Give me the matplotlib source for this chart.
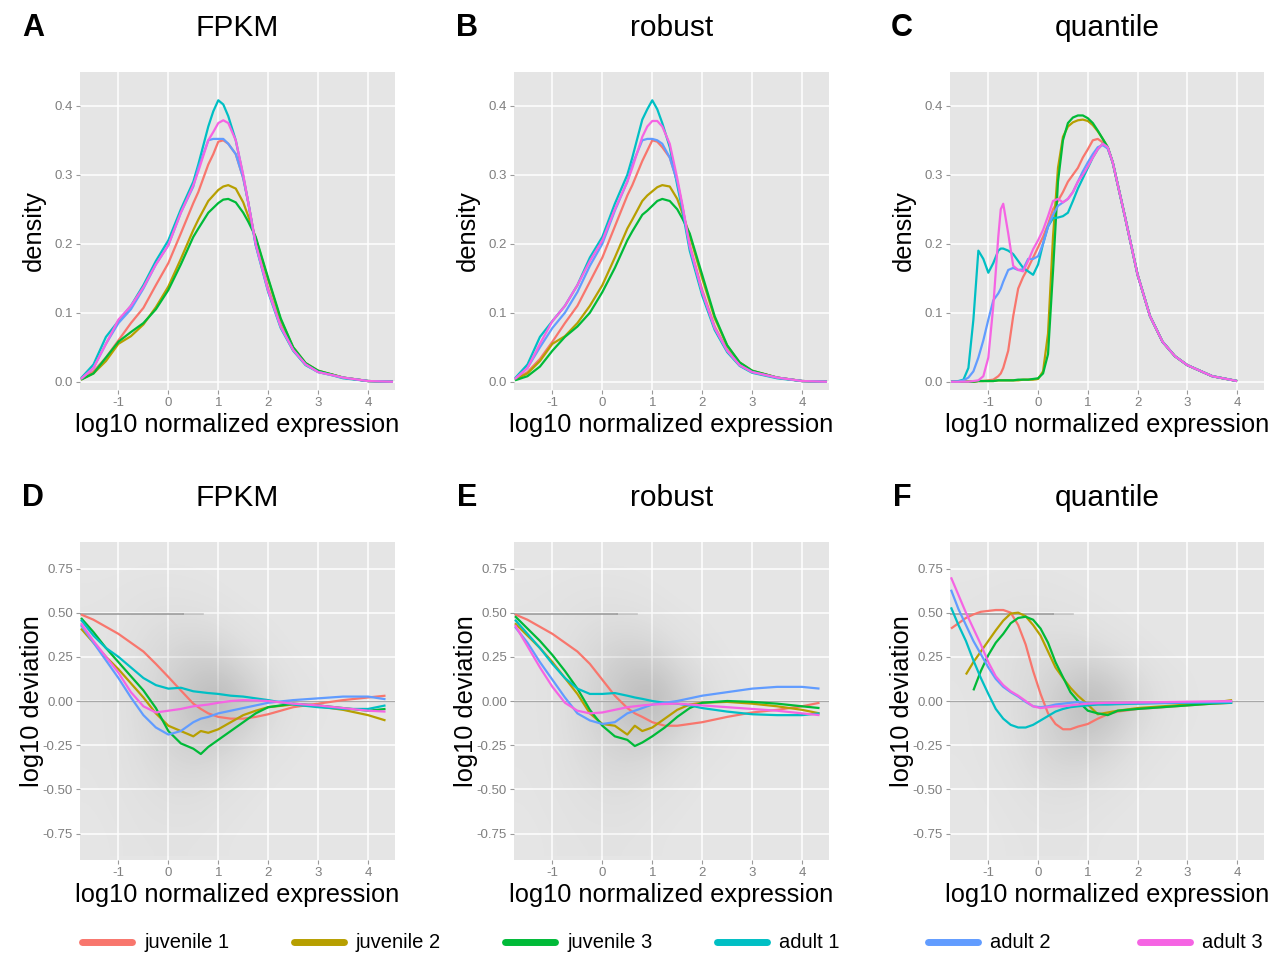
import numpy as np
import matplotlib
matplotlib.use("Agg")
import matplotlib.pyplot as plt
from matplotlib.lines import Line2D

plt.rcParams['font.family'] = ['Liberation Sans', 'DejaVu Sans']
plt.rcParams['axes.unicode_minus'] = False

# ---------------- data ----------------
samples = ["juvenile 1", "juvenile 2", "juvenile 3", "adult 1", "adult 2", "adult 3"]
colors = ["#F8766D", "#B79F00", "#00BA38", "#00BFC4", "#619CFF", "#F564E3"]

# density panels A, B
dens_x = [-1.75, -1.5, -1.25, -1.0, -0.75, -0.5, -0.25, 0.0, 0.25, 0.5, 0.6, 0.8, 0.9, 1.0,
          1.1, 1.2, 1.35, 1.5, 1.6, 1.75, 2.0, 2.25, 2.5, 2.75, 3.0, 3.25, 3.5, 4.0, 4.5]

fpkm_density = {
    "juvenile 1": [0.003, 0.015, 0.035, 0.06, 0.085, 0.107, 0.14, 0.172, 0.215, 0.259, 0.275, 0.315, 0.33,
                   0.348, 0.35, 0.345, 0.33, 0.295, 0.26, 0.2, 0.135, 0.082, 0.047, 0.025, 0.015, 0.011,
                   0.006, 0.001, 0.0],
    "juvenile 2": [0.003, 0.012, 0.03, 0.055, 0.066, 0.083, 0.108, 0.138, 0.178, 0.22, 0.235, 0.262, 0.27,
                   0.278, 0.283, 0.285, 0.28, 0.26, 0.24, 0.208, 0.148, 0.09, 0.05, 0.027, 0.016, 0.011,
                   0.006, 0.001, 0.0],
    "juvenile 3": [0.003, 0.012, 0.035, 0.058, 0.072, 0.085, 0.105, 0.133, 0.17, 0.21, 0.222, 0.245, 0.252,
                   0.259, 0.264, 0.265, 0.26, 0.245, 0.232, 0.21, 0.15, 0.092, 0.05, 0.027, 0.016, 0.011,
                   0.006, 0.001, 0.0],
    "adult 1":    [0.005, 0.025, 0.065, 0.088, 0.11, 0.14, 0.175, 0.205, 0.25, 0.29, 0.315, 0.37, 0.392,
                   0.408, 0.402, 0.385, 0.35, 0.298, 0.26, 0.198, 0.13, 0.078, 0.045, 0.024, 0.014, 0.01,
                   0.005, 0.001, 0.0],
    "adult 2":    [0.004, 0.02, 0.055, 0.085, 0.105, 0.135, 0.17, 0.198, 0.245, 0.283, 0.31, 0.35, 0.352,
                   0.352, 0.352, 0.345, 0.33, 0.295, 0.26, 0.198, 0.132, 0.08, 0.046, 0.025, 0.014, 0.01,
                   0.006, 0.001, 0.0],
    "adult 3":    [0.004, 0.02, 0.055, 0.09, 0.11, 0.137, 0.17, 0.198, 0.245, 0.285, 0.305, 0.35, 0.362,
                   0.375, 0.379, 0.375, 0.35, 0.30, 0.26, 0.2, 0.132, 0.08, 0.046, 0.025, 0.014, 0.01,
                   0.006, 0.001, 0.0],
}

robust_density = {
    "juvenile 1": [0.003, 0.014, 0.033, 0.058, 0.085, 0.11, 0.145, 0.18, 0.225, 0.27, 0.285, 0.32, 0.335,
                   0.35, 0.348, 0.34, 0.325, 0.29, 0.255, 0.198, 0.133, 0.08, 0.046, 0.025, 0.015, 0.011,
                   0.006, 0.001, 0.0],
    "juvenile 2": [0.003, 0.012, 0.03, 0.055, 0.066, 0.085, 0.11, 0.14, 0.18, 0.222, 0.235, 0.262, 0.27,
                   0.276, 0.282, 0.285, 0.283, 0.265, 0.245, 0.212, 0.15, 0.092, 0.052, 0.028, 0.016, 0.011,
                   0.006, 0.001, 0.0],
    "juvenile 3": [0.002, 0.008, 0.022, 0.045, 0.065, 0.08, 0.1, 0.13, 0.165, 0.205, 0.218, 0.242, 0.248,
                   0.255, 0.262, 0.265, 0.262, 0.25, 0.237, 0.215, 0.155, 0.095, 0.053, 0.028, 0.016, 0.011,
                   0.006, 0.001, 0.0],
    "adult 1":    [0.005, 0.025, 0.065, 0.088, 0.11, 0.14, 0.18, 0.21, 0.258, 0.3, 0.325, 0.38, 0.395,
                   0.408, 0.395, 0.375, 0.34, 0.285, 0.25, 0.19, 0.125, 0.075, 0.043, 0.023, 0.013, 0.009,
                   0.005, 0.001, 0.0],
    "adult 2":    [0.004, 0.02, 0.05, 0.078, 0.1, 0.13, 0.168, 0.2, 0.248, 0.29, 0.315, 0.35, 0.352,
                   0.352, 0.35, 0.345, 0.325, 0.29, 0.255, 0.195, 0.13, 0.078, 0.045, 0.024, 0.014, 0.01,
                   0.006, 0.001, 0.0],
    "adult 3":    [0.004, 0.02, 0.055, 0.088, 0.11, 0.14, 0.175, 0.205, 0.25, 0.29, 0.31, 0.355, 0.37,
                   0.378, 0.378, 0.37, 0.345, 0.295, 0.258, 0.197, 0.13, 0.078, 0.045, 0.024, 0.014, 0.01,
                   0.006, 0.001, 0.0],
}

# density panel C (quantile)
quant_x = [-1.75, -1.6, -1.5, -1.4, -1.3, -1.2, -1.1, -1.0, -0.9, -0.8, -0.75, -0.7, -0.6, -0.5,
           -0.4, -0.3, -0.2, -0.1, 0.0, 0.1, 0.2, 0.3, 0.4, 0.5, 0.6, 0.7, 0.8, 0.9, 1.0, 1.1,
           1.2, 1.3, 1.4, 1.5, 1.75, 2.0, 2.25, 2.5, 2.75, 3.0, 3.5, 4.0]

quantile_density = {
    "juvenile 1": [0.0, 0.0, 0.0, 0.0, 0.0, 0.001, 0.001, 0.002, 0.003, 0.008, 0.012, 0.02, 0.045, 0.095,
                   0.135, 0.152, 0.165, 0.18, 0.195, 0.21, 0.228, 0.25, 0.262, 0.275, 0.29, 0.3, 0.31, 0.325,
                   0.337, 0.35, 0.352, 0.347, 0.338, 0.318, 0.238, 0.155, 0.095, 0.058, 0.037, 0.024, 0.008, 0.001],
    "juvenile 2": [0.0, 0.0, 0.0, 0.0, 0.0, 0.001, 0.001, 0.001, 0.001, 0.002, 0.002, 0.002, 0.002, 0.002,
                   0.002, 0.003, 0.003, 0.003, 0.004, 0.015, 0.07, 0.21, 0.31, 0.355, 0.37, 0.376, 0.379, 0.38,
                   0.378, 0.372, 0.363, 0.352, 0.34, 0.318, 0.238, 0.155, 0.095, 0.058, 0.037, 0.024, 0.008, 0.001],
    "juvenile 3": [0.0, 0.0, 0.0, 0.0, 0.0, 0.001, 0.001, 0.001, 0.001, 0.002, 0.002, 0.002, 0.002, 0.002,
                   0.003, 0.003, 0.003, 0.004, 0.005, 0.012, 0.04, 0.16, 0.29, 0.35, 0.375, 0.383, 0.386, 0.386,
                   0.382, 0.375, 0.364, 0.352, 0.34, 0.318, 0.238, 0.155, 0.095, 0.058, 0.037, 0.024, 0.008, 0.001],
    "adult 1":    [0.0, 0.001, 0.003, 0.02, 0.09, 0.19, 0.178, 0.158, 0.172, 0.19, 0.193, 0.193, 0.19, 0.185,
                   0.175, 0.165, 0.16, 0.155, 0.17, 0.2, 0.225, 0.237, 0.238, 0.24, 0.245, 0.262, 0.28, 0.295,
                   0.31, 0.325, 0.337, 0.345, 0.34, 0.318, 0.238, 0.155, 0.095, 0.058, 0.037, 0.024, 0.008, 0.001],
    "adult 2":    [0.0, 0.0, 0.002, 0.006, 0.015, 0.035, 0.06, 0.09, 0.118, 0.128, 0.135, 0.145, 0.162, 0.165,
                   0.162, 0.163, 0.178, 0.178, 0.182, 0.2, 0.225, 0.242, 0.255, 0.26, 0.265, 0.275, 0.29, 0.305,
                   0.318, 0.33, 0.34, 0.343, 0.338, 0.318, 0.238, 0.155, 0.095, 0.058, 0.037, 0.024, 0.008, 0.001],
    "adult 3":    [0.0, 0.0, 0.0, 0.0, 0.001, 0.002, 0.008, 0.035, 0.11, 0.21, 0.25, 0.258, 0.215, 0.168,
                   0.162, 0.16, 0.175, 0.192, 0.205, 0.22, 0.24, 0.262, 0.265, 0.26, 0.265, 0.275, 0.29, 0.3,
                   0.312, 0.325, 0.337, 0.345, 0.34, 0.318, 0.238, 0.155, 0.095, 0.058, 0.037, 0.024, 0.008, 0.001],
}

# deviation panels D, E
dev_x = [-1.75, -1.5, -1.25, -1.0, -0.75, -0.5, -0.25, 0.0, 0.25, 0.5, 0.65, 0.8, 1.0, 1.25,
         1.5, 1.75, 2.0, 2.5, 3.0, 3.5, 4.0, 4.35]

fpkm_deviation = {
    "juvenile 1": [0.49, 0.46, 0.42, 0.38, 0.33, 0.28, 0.21, 0.136, 0.06, -0.015, -0.045, -0.07, -0.09,
                   -0.1, -0.1, -0.09, -0.075, -0.035, -0.015, 0.005, 0.02, 0.03],
    "juvenile 2": [0.41, 0.33, 0.25, 0.18, 0.1, 0.02, -0.07, -0.14, -0.17, -0.2, -0.17, -0.18, -0.16,
                   -0.12, -0.08, -0.055, -0.035, -0.02, -0.03, -0.05, -0.08, -0.11],
    "juvenile 3": [0.47, 0.39, 0.3, 0.22, 0.14, 0.06, -0.04, -0.17, -0.24, -0.27, -0.3, -0.26, -0.22,
                   -0.17, -0.12, -0.07, -0.035, -0.015, -0.025, -0.04, -0.055, -0.045],
    "adult 1":    [0.46, 0.37, 0.30, 0.25, 0.19, 0.13, 0.09, 0.07, 0.075, 0.055, 0.05, 0.045, 0.04,
                   0.03, 0.025, 0.015, 0.005, -0.02, -0.035, -0.045, -0.045, -0.025],
    "adult 2":    [0.43, 0.33, 0.23, 0.13, 0.02, -0.08, -0.15, -0.19, -0.17, -0.12, -0.1, -0.09, -0.07,
                   -0.055, -0.04, -0.025, -0.01, 0.005, 0.015, 0.025, 0.025, 0.01],
    "adult 3":    [0.44, 0.34, 0.25, 0.16, 0.05, -0.03, -0.065, -0.055, -0.045, -0.03, -0.025, -0.02, -0.01,
                   0.0, 0.005, 0.003, 0.0, -0.015, -0.025, -0.04, -0.055, -0.06],
}

robust_deviation = {
    "juvenile 1": [0.49, 0.46, 0.42, 0.38, 0.33, 0.28, 0.21, 0.12, 0.03, -0.04, -0.07, -0.09, -0.12,
                   -0.14, -0.14, -0.13, -0.12, -0.09, -0.065, -0.05, -0.03, -0.01],
    "juvenile 2": [0.44, 0.37, 0.3, 0.22, 0.13, 0.04, -0.07, -0.13, -0.14, -0.19, -0.14, -0.17, -0.15,
                   -0.1, -0.05, -0.02, -0.01, -0.005, -0.015, -0.03, -0.05, -0.07],
    "juvenile 3": [0.48, 0.41, 0.34, 0.26, 0.17, 0.07, -0.05, -0.14, -0.2, -0.22, -0.255, -0.235, -0.2,
                   -0.15, -0.09, -0.04, -0.01, 0.0, -0.005, -0.015, -0.03, -0.04],
    "adult 1":    [0.46, 0.38, 0.3, 0.21, 0.13, 0.07, 0.04, 0.04, 0.045, 0.03, 0.02, 0.012, 0.0,
                   -0.01, -0.015, -0.025, -0.04, -0.06, -0.075, -0.08, -0.08, -0.07],
    "adult 2":    [0.42, 0.33, 0.22, 0.12, 0.02, -0.07, -0.11, -0.13, -0.12, -0.07, -0.055, -0.04, -0.02,
                   -0.01, 0.0, 0.015, 0.03, 0.05, 0.07, 0.08, 0.08, 0.07],
    "adult 3":    [0.43, 0.31, 0.19, 0.08, -0.01, -0.055, -0.07, -0.065, -0.05, -0.035, -0.03, -0.025, -0.02,
                   -0.017, -0.015, -0.02, -0.025, -0.035, -0.045, -0.055, -0.07, -0.08],
}

# deviation panel F (quantile); None = no curve there
qdev_x = [-1.75, -1.6, -1.45, -1.3, -1.15, -1.0, -0.85, -0.7, -0.55, -0.4, -0.25, -0.1, 0.05, 0.2,
          0.35, 0.5, 0.65, 0.8, 1.0, 1.2, 1.4, 1.6, 2.0, 2.5, 3.0, 3.5, 3.9]

quantile_deviation = {
    "juvenile 1": [0.41, 0.44, 0.47, 0.49, 0.505, 0.51, 0.515, 0.515, 0.5, 0.43, 0.32, 0.17, 0.04, -0.07,
                   -0.13, -0.16, -0.16, -0.145, -0.13, -0.1, -0.075, -0.06, -0.045, -0.035, -0.025, -0.015, -0.01],
    "juvenile 2": [None, None, 0.15, 0.22, 0.28, 0.34, 0.4, 0.455, 0.495, 0.5, 0.48, 0.43, 0.37, 0.28,
                   0.19, 0.13, 0.075, 0.03, -0.02, -0.075, -0.065, -0.055, -0.04, -0.03, -0.02, -0.01, 0.005],
    "juvenile 3": [None, None, None, 0.06, 0.17, 0.26, 0.33, 0.38, 0.44, 0.47, 0.477, 0.46, 0.41, 0.33,
                   0.22, 0.135, 0.05, 0.0, -0.055, -0.07, -0.08, -0.055, -0.045, -0.035, -0.025, -0.015, -0.01],
    "adult 1":    [0.53, 0.43, 0.34, 0.23, 0.13, 0.04, -0.045, -0.1, -0.135, -0.15, -0.15, -0.135, -0.11, -0.085,
                   -0.06, -0.045, -0.035, -0.03, -0.025, -0.02, -0.02, -0.018, -0.015, -0.012, -0.01, -0.01, -0.01],
    "adult 2":    [0.63, 0.52, 0.43, 0.34, 0.265, 0.19, 0.125, 0.08, 0.05, 0.025, -0.005, -0.03, -0.035, -0.03,
                   -0.02, -0.015, -0.01, -0.005, -0.012, -0.012, -0.012, -0.012, -0.012, -0.01, -0.008, -0.006, -0.005],
    "adult 3":    [0.70, 0.6, 0.5, 0.41, 0.32, 0.22, 0.14, 0.09, 0.055, 0.03, 0.0, -0.03, -0.04, -0.035,
                   -0.03, -0.03, -0.025, -0.02, -0.015, -0.012, -0.01, -0.01, -0.008, -0.006, -0.004, -0.002, 0.0],
}

# grey point-cloud density behind the deviation curves (rows: y = 0.75 ... -0.75, cols: x = -1.5 ... 4)
cloud_x = [-1.5, -1.0, -0.5, 0.0, 0.5, 1.0, 1.5, 2.0, 2.5, 3.0, 3.5, 4.0]
cloud_y = [0.75, 0.5, 0.25, 0.0, -0.25, -0.5, -0.75]
fpkm_cloud = [
    [0.0, 0.0, 0.0, 0.0, 0.0, 0.0, 0.0, 0.0, 0.0, 0.0, 0.0, 0.0],
    [0.02, 0.03, 0.06, 0.07, 0.05, 0.02, 0.0, 0.0, 0.0, 0.0, 0.0, 0.0],
    [0.02, 0.05, 0.12, 0.22, 0.3, 0.25, 0.1, 0.03, 0.0, 0.0, 0.0, 0.0],
    [0.02, 0.05, 0.15, 0.32, 0.55, 0.75, 0.5, 0.2, 0.05, 0.02, 0.0, 0.0],
    [0.02, 0.04, 0.12, 0.22, 0.3, 0.25, 0.12, 0.04, 0.01, 0.0, 0.0, 0.0],
    [0.01, 0.03, 0.06, 0.1, 0.1, 0.06, 0.02, 0.0, 0.0, 0.0, 0.0, 0.0],
    [0.0, 0.01, 0.03, 0.03, 0.03, 0.01, 0.0, 0.0, 0.0, 0.0, 0.0, 0.0],
]
robust_cloud = [
    [0.0, 0.0, 0.0, 0.0, 0.0, 0.0, 0.0, 0.0, 0.0, 0.0, 0.0, 0.0],
    [0.02, 0.03, 0.06, 0.07, 0.05, 0.02, 0.0, 0.0, 0.0, 0.0, 0.0, 0.0],
    [0.02, 0.05, 0.12, 0.24, 0.32, 0.26, 0.1, 0.03, 0.0, 0.0, 0.0, 0.0],
    [0.02, 0.05, 0.15, 0.32, 0.58, 0.75, 0.45, 0.18, 0.04, 0.01, 0.0, 0.0],
    [0.02, 0.04, 0.12, 0.22, 0.28, 0.22, 0.1, 0.03, 0.01, 0.0, 0.0, 0.0],
    [0.01, 0.03, 0.06, 0.1, 0.1, 0.05, 0.02, 0.0, 0.0, 0.0, 0.0, 0.0],
    [0.0, 0.01, 0.03, 0.03, 0.03, 0.01, 0.0, 0.0, 0.0, 0.0, 0.0, 0.0],
]
quantile_cloud = [
    [0.0, 0.0, 0.0, 0.0, 0.0, 0.0, 0.0, 0.0, 0.0, 0.0, 0.0, 0.0],
    [0.02, 0.03, 0.05, 0.05, 0.03, 0.01, 0.0, 0.0, 0.0, 0.0, 0.0, 0.0],
    [0.02, 0.05, 0.1, 0.14, 0.18, 0.15, 0.07, 0.02, 0.0, 0.0, 0.0, 0.0],
    [0.01, 0.03, 0.1, 0.22, 0.42, 0.72, 0.55, 0.25, 0.07, 0.02, 0.0, 0.0],
    [0.01, 0.03, 0.08, 0.2, 0.32, 0.32, 0.18, 0.05, 0.01, 0.0, 0.0, 0.0],
    [0.0, 0.01, 0.03, 0.07, 0.08, 0.05, 0.02, 0.0, 0.0, 0.0, 0.0, 0.0],
    [0.0, 0.0, 0.01, 0.02, 0.02, 0.01, 0.0, 0.0, 0.0, 0.0, 0.0, 0.0],
]
saturation_level = 0.49
saturation_end = 0.7

x_ticks = [-1, 0, 1, 2, 3, 4]
dens_ticks = [0.0, 0.1, 0.2, 0.3, 0.4]
dev_ticks = [-0.75, -0.5, -0.25, 0.0, 0.25, 0.5, 0.75]

# ---------------- figure ----------------
W, H = 1269, 959
fig = plt.figure(figsize=(W / 100, H / 100), dpi=100)
fig.patch.set_facecolor('white')

PANEL_BG = '#E5E5E5'
TICK_C = '#7F7F7F'


def px_axes(l, r, t, b):
    return fig.add_axes([l / W, 1 - b / H, (r - l) / W, (b - t) / H])


def ftext(x, y, s, **kw):
    fig.text(x / W, 1 - y / H, s, **kw)


def style(ax, yticks, yfmt, ylim):
    ax.set_facecolor(PANEL_BG)
    for sp in ax.spines.values():
        sp.set_visible(False)
    ax.set_xlim(-1.77, 4.54)
    ax.set_ylim(*ylim)
    ax.set_xticks(x_ticks)
    ax.set_xticklabels([str(t) for t in x_ticks])
    ax.set_yticks(yticks)
    ax.set_yticklabels([yfmt.format(t) for t in yticks])
    ax.grid(True, color='white', linewidth=1.1)
    ax.set_axisbelow(True)
    ax.tick_params(length=3, width=0.8, color='#9A9A9A', labelcolor=TICK_C, labelsize=9.5, pad=2)


def draw_lines(ax, xs, series):
    for name, c in zip(samples, colors):
        ys = np.array([np.nan if v is None else v for v in series[name]], dtype=float)
        ax.plot(xs, ys, color=c, linewidth=1.6, solid_capstyle='butt',
                solid_joinstyle='round', zorder=4)


def draw_cloud(ax, grid):
    g = np.array(grid, dtype=float)
    rgba = np.zeros(g.shape + (4,))
    rgba[..., :3] = 0.36
    rgba[..., 3] = g * 0.5
    dx = (cloud_x[1] - cloud_x[0]) / 2
    dy = (cloud_y[0] - cloud_y[1]) / 2
    ax.imshow(rgba, extent=[cloud_x[0] - dx, cloud_x[-1] + dx, cloud_y[-1] - dy, cloud_y[0] + dy],
              aspect='auto', interpolation='bicubic', zorder=1)
    ax.axhline(0, color='#A8A8A8', linewidth=0.9, zorder=2)
    ax.plot([-1.77, 0.3], [saturation_level] * 2, color='#8C8C8C', linewidth=1.4, alpha=0.7, zorder=2)
    ax.plot([0.3, saturation_end], [saturation_level] * 2, color='#A0A0A0', linewidth=1.2, alpha=0.5, zorder=2)


cols = [(80, 395), (514, 829), (950, 1264)]
top_row = (72, 390)
bot_row = (542, 860)
titles = ["FPKM", "robust", "quantile"]
letters_top = ["A", "B", "C"]
letters_bot = ["D", "E", "F"]
letter_x = [33, 467, 902]

dens_sets = [(dens_x, fpkm_density), (dens_x, robust_density), (quant_x, quantile_density)]
dev_sets = [(dev_x, fpkm_deviation, fpkm_cloud), (dev_x, robust_deviation, robust_cloud),
            (qdev_x, quantile_deviation, quantile_cloud)]

TITLE_FS = 21.5
LABEL_FS = 18.3
LETTER_FS = 22

for i, (l, r) in enumerate(cols):
    cx = (l + r) / 2
    # top row: densities
    ax = px_axes(l, r, *top_row)
    xs, ser = dens_sets[i]
    draw_lines(ax, xs, ser)
    style(ax, dens_ticks, "{:.1f}", (-0.012, 0.449))
    ftext(cx, 28, titles[i], ha='center', va='center', fontsize=TITLE_FS)
    ftext(letter_x[i], 28, letters_top[i], ha='center', va='center', fontsize=LETTER_FS, fontweight='bold')
    ftext(cx, 425, "log10 normalized expression", ha='center', va='center', fontsize=LABEL_FS)
    ftext(l - 46, (top_row[0] + top_row[1]) / 2, "density", ha='center', va='center',
          rotation=90, fontsize=LABEL_FS)

    # bottom row: deviations
    ax = px_axes(l, r, *bot_row)
    xs, ser, cloud = dev_sets[i]
    draw_cloud(ax, cloud)
    draw_lines(ax, xs, ser)
    style(ax, dev_ticks, "{:.2f}", (-0.9, 0.9))
    ftext(cx, 498, titles[i], ha='center', va='center', fontsize=TITLE_FS)
    ftext(letter_x[i], 498, letters_bot[i], ha='center', va='center', fontsize=LETTER_FS, fontweight='bold')
    ftext(cx, 895, "log10 normalized expression", ha='center', va='center', fontsize=LABEL_FS)
    ftext(l - 48, (bot_row[0] + bot_row[1]) / 2, "log10 deviation", ha='center', va='center',
          rotation=90, fontsize=LABEL_FS)

# legend
leg_y = 942
for i, (name, c) in enumerate(zip(samples, colors)):
    x0 = 82 + i * 211.5
    fig.add_artist(Line2D([x0 / W, (x0 + 50) / W], [1 - leg_y / H] * 2, color=c, linewidth=5,
                          solid_capstyle='round', transform=fig.transFigure))
    ftext(x0 + 62, leg_y, name, ha='left', va='center', fontsize=14.5)

fig.savefig("out.png", dpi=100, facecolor='white')
